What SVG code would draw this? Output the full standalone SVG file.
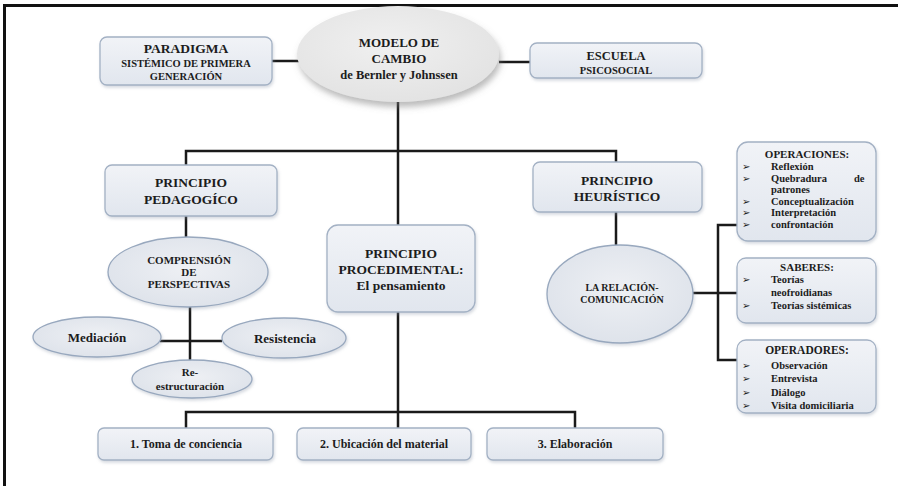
<svg xmlns="http://www.w3.org/2000/svg" width="898" height="486" viewBox="0 0 898 486">
<defs>
<linearGradient id="boxg" x1="0" y1="0" x2="0" y2="1">
<stop offset="0" stop-color="#f1f3f7"/>
<stop offset="1" stop-color="#e1e6ee"/>
</linearGradient>
<radialGradient id="ellg" cx="0.5" cy="0.45" r="0.6">
<stop offset="0" stop-color="#eef0f4"/>
<stop offset="1" stop-color="#dde2ea"/>
</radialGradient>
<radialGradient id="maing" cx="0.45" cy="0.4" r="0.65">
<stop offset="0" stop-color="#f0f0f0"/>
<stop offset="1" stop-color="#e2e2e2"/>
</radialGradient>
<filter id="sh" x="-10%" y="-10%" width="125%" height="135%">
<feDropShadow dx="1" dy="2" stdDeviation="1.5" flood-color="#8a96a8" flood-opacity="0.35"/>
</filter>
<filter id="shm" x="-15%" y="-15%" width="135%" height="150%">
<feDropShadow dx="2" dy="5" stdDeviation="3" flood-color="#777" flood-opacity="0.5"/>
</filter>
</defs>
<style>
.box{fill:url(#boxg);stroke:#a3b1c4;stroke-width:1.3;filter:url(#sh)}
.ell{fill:url(#ellg);stroke:#98a8be;stroke-width:1.3;filter:url(#sh)}
.main{fill:url(#maing);stroke:none;filter:url(#shm)}
.t{font-family:"Liberation Serif","Times New Roman",serif;font-weight:bold;fill:#1c1c1c;text-anchor:middle}
.l{font-family:"Liberation Serif","Times New Roman",serif;font-weight:bold;fill:#1c1c1c;font-size:10.5px}
.b{font-family:"DejaVu Sans",sans-serif;font-weight:bold;fill:#1c1c1c;font-size:10px}
.c{fill:none;stroke:#1a1a1a;stroke-width:2.5}
.frame{fill:none;stroke:#111;stroke-width:3}
</style>
<rect x="0" y="0" width="898" height="486" fill="#ffffff"/>
<path class="frame" d="M4.5 486 V5.5 H898"/>

<g id="connectors">
<path class="c" d="M272 61 H299"/>
<path class="c" d="M499 62 H530"/>
<path class="c" d="M398 101 V225"/>
<path class="c" d="M186 165 V151 H616 V162"/>
<path class="c" d="M186 216 V237"/>
<path class="c" d="M190 307 V360"/>
<path class="c" d="M160 341 H222"/>
<path class="c" d="M616 212 V245"/>
<path class="c" d="M693 293 H737"/>
<path class="c" d="M737 225 H718 V360 H737"/>
<path class="c" d="M398 312 V428"/>
<path class="c" d="M186 428 V412 H575 V428"/>
</g>

<g id="paradigma">
<rect class="box" x="100" y="37" width="172" height="48" rx="7"/>
<text class="t" x="186" y="52.5" font-size="13.5">PARADIGMA</text>
<text class="t" x="186" y="66.5" font-size="10.5">SISTÉMICO DE PRIMERA</text>
<text class="t" x="186" y="80" font-size="10.5">GENERACIÓN</text>
</g>

<g id="modelo">
<ellipse class="main" cx="398" cy="54" rx="101" ry="48"/>
<text class="t" x="399" y="46.5" font-size="13">MODELO DE</text>
<text class="t" x="399" y="62.5" font-size="13">CAMBIO</text>
<text class="t" x="399" y="78.5" font-size="12.5">de Bernler y Johnssen</text>
</g>

<g id="escuela">
<rect class="box" x="530" y="43" width="172" height="35" rx="7"/>
<text class="t" x="616" y="59.5" font-size="12.5">ESCUELA</text>
<text class="t" x="616" y="73.5" font-size="10.5">PSICOSOCIAL</text>
</g>

<g id="pedagogico">
<rect class="box" x="105" y="165" width="172" height="51" rx="7"/>
<text class="t" x="191" y="186.5" font-size="13.5">PRINCIPIO</text>
<text class="t" x="191" y="203.5" font-size="13.5">PEDAGOGÍCO</text>
</g>

<g id="comprension">
<ellipse class="ell" cx="188" cy="272" rx="80" ry="35"/>
<text class="t" x="189" y="264" font-size="11">COMPRENSIÓN</text>
<text class="t" x="189" y="276" font-size="11">DE</text>
<text class="t" x="189" y="288" font-size="11">PERSPECTIVAS</text>
</g>

<g id="mediacion">
<ellipse class="ell" cx="97" cy="337" rx="64" ry="20"/>
<text class="t" x="97" y="341.5" font-size="13">Mediación</text>
</g>

<g id="resistencia">
<ellipse class="ell" cx="284" cy="338" rx="62" ry="20"/>
<text class="t" x="285" y="342.5" font-size="13">Resistencia</text>
</g>

<g id="reestructuracion">
<ellipse class="ell" cx="192" cy="379" rx="60" ry="19"/>
<text class="t" x="190" y="376" font-size="11">Re-</text>
<text class="t" x="190" y="390" font-size="11">estructuración</text>
</g>

<g id="procedimental">
<rect class="box" x="327" y="225" width="148" height="87" rx="11"/>
<text class="t" x="401" y="258" font-size="13.5">PRINCIPIO</text>
<text class="t" x="401" y="274" font-size="13.5">PROCEDIMENTAL:</text>
<text class="t" x="401" y="290" font-size="13.5">El pensamiento</text>
</g>

<g id="heuristico">
<rect class="box" x="533" y="162" width="169" height="50" rx="7"/>
<text class="t" x="617" y="185" font-size="13.5">PRINCIPIO</text>
<text class="t" x="617" y="201" font-size="13.5">HEURÍSTICO</text>
</g>

<g id="relacion">
<ellipse class="ell" cx="620" cy="294" rx="73" ry="49"/>
<text class="t" x="622" y="291" font-size="10">LA RELACIÓN-</text>
<text class="t" x="622" y="303" font-size="10">COMUNICACIÓN</text>
</g>

<g id="operaciones">
<rect class="box" x="737" y="142" width="139" height="99" rx="11"/>
<text class="t" x="807" y="157.5" font-size="11">OPERACIONES:</text>
<text class="b" x="742" y="170">➢</text><text class="l" x="771" y="170">Reflexión</text>
<text class="b" x="742" y="181.5">➢</text><text class="l" x="771" y="181.5">Quebradura</text><text class="l" x="854" y="181.5">de</text>
<text class="l" x="771" y="193">patrones</text>
<text class="b" x="742" y="204.5">➢</text><text class="l" x="771" y="204.5">Conceptualización</text>
<text class="b" x="742" y="216">➢</text><text class="l" x="771" y="216">Interpretación</text>
<text class="b" x="742" y="227.5">➢</text><text class="l" x="771" y="227.5">confrontación</text>
</g>

<g id="saberes">
<rect class="box" x="737" y="258" width="139" height="65" rx="9"/>
<text class="t" x="807" y="271" font-size="11">SABERES:</text>
<text class="b" x="742" y="282.5">➢</text><text class="l" x="771" y="282.5">Teorías</text>
<text class="l" x="771" y="295.5">neofroidianas</text>
<text class="b" x="742" y="308.5">➢</text><text class="l" x="771" y="308.5">Teorías sistémicas</text>
</g>

<g id="operadores">
<rect class="box" x="737" y="340" width="139" height="73" rx="9"/>
<text class="t" x="807" y="354" font-size="11.5">OPERADORES:</text>
<text class="b" x="742" y="368.5">➢</text><text class="l" x="771" y="368.5" font-size="11">Observación</text>
<text class="b" x="742" y="382">➢</text><text class="l" x="771" y="382" font-size="11">Entrevista</text>
<text class="b" x="742" y="395.5">➢</text><text class="l" x="771" y="395.5" font-size="11">Diálogo</text>
<text class="b" x="742" y="409">➢</text><text class="l" x="771" y="409" font-size="11">Visita domiciliaria</text>
</g>

<g id="toma">
<rect class="box" x="98" y="428" width="175" height="32" rx="6"/>
<text class="t" x="186" y="448" font-size="12">1. Toma de conciencia</text>
</g>

<g id="ubicacion">
<rect class="box" x="297" y="428" width="174" height="32" rx="6"/>
<text class="t" x="384" y="448" font-size="12">2. Ubicación del material</text>
</g>

<g id="elaboracion">
<rect class="box" x="487" y="428" width="176" height="32" rx="6"/>
<text class="t" x="575" y="448" font-size="12">3. Elaboración</text>
</g>
</svg>
